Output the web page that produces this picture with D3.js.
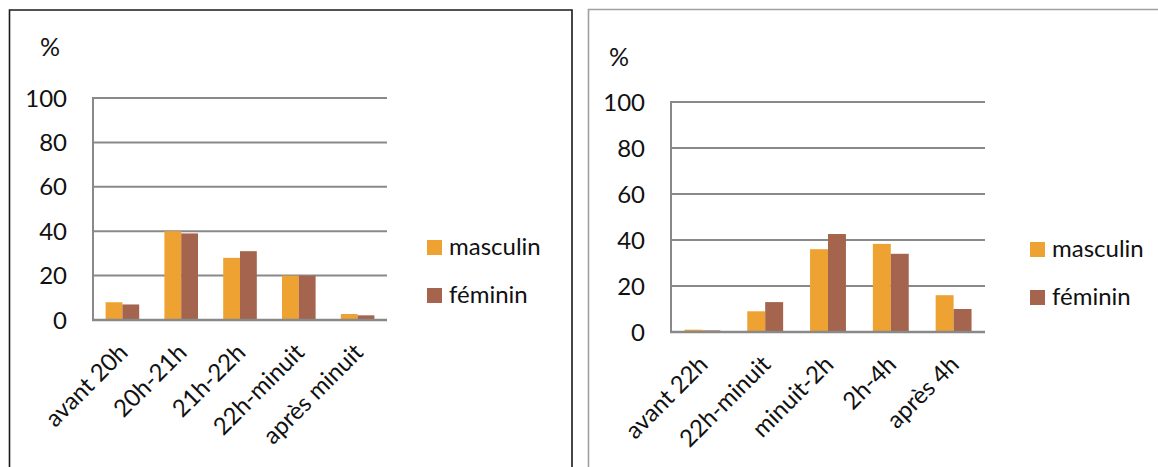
<!DOCTYPE html>
<html>
<head>
<meta charset="utf-8">
<script src="https://cdn.jsdelivr.net/npm/d3@7"></script>
<style>
  html, body { margin: 0; padding: 0; background: #fff; }
  svg { display: block; }
  text { font-family: Lato, "Open Sans", sans-serif; fill: #111; }
</style>
</head>
<body>
<svg id="chart" width="1158" height="467"></svg>
<script>
// ---- data ----
const seriesNames = ["masculin", "féminin"];
const seriesColors = ["#EEA232", "#A5644E"];
const yTicks = [0, 20, 40, 60, 80, 100];

const leftCategories = ["avant 20h", "20h-21h", "21h-22h", "22h-minuit", "après minuit"];
const leftMasculin = [8, 40, 28, 20, 2.7];
const leftFeminin = [7, 39, 31, 20, 2.1];

const rightCategories = ["avant 22h", "22h-minuit", "minuit-2h", "2h-4h", "après 4h"];
const rightMasculin = [1, 9, 36, 38.3, 16];
const rightFeminin = [0.7, 13, 42.6, 34, 10];

const svg = d3.select("#chart");
svg.append("rect").attr("width", 1158).attr("height", 467).attr("fill", "#fff");

// panel frames
svg.append("path").attr("d", "M9.5,470 V10 H572 V470")
  .attr("fill", "none").attr("stroke", "#1a1a1a").attr("stroke-width", 1.6);
svg.append("path").attr("d", "M588.5,470 V9.5 H1160")
  .attr("fill", "none").attr("stroke", "#a0a0a0").attr("stroke-width", 1.6);

function drawChart(cfg) {
  const g = svg.append("g");
  const x = d3.scaleBand().domain(cfg.categories).range([cfg.x0, cfg.x1]).padding(0);
  const y = d3.scaleLinear().domain([0, 100]).range([cfg.y0, cfg.y1]);
  const inner = d3.scaleBand().domain(seriesNames)
    .range([0, x.bandwidth()]).paddingOuter(0.75).paddingInner(0);

  // gridlines
  g.selectAll("line.grid").data(yTicks.filter(t => t > 0)).join("line")
    .attr("x1", cfg.x0).attr("x2", cfg.x1)
    .attr("y1", d => y(d)).attr("y2", d => y(d))
    .attr("stroke", "#898989").attr("stroke-width", 2);

  // tick labels
  g.selectAll("text.tick").data(yTicks).join("text")
    .attr("x", cfg.x0 - 26).attr("y", d => y(d)).attr("dy", "0.36em")
    .attr("text-anchor", "end").attr("font-size", 24)
    .text(d => d);

  // bars
  const values = [cfg.masc, cfg.fem];
  seriesNames.forEach((s, si) => {
    g.selectAll("rect.s" + si).data(cfg.categories).join("rect")
      .attr("x", d => x(d) + inner(s))
      .attr("width", inner.bandwidth())
      .attr("y", (d, i) => y(values[si][i]))
      .attr("height", (d, i) => y(0) - y(values[si][i]))
      .attr("fill", seriesColors[si]);
  });

  // axes lines
  g.append("line").attr("x1", cfg.x0).attr("x2", cfg.x0)
    .attr("y1", y(100) - 1).attr("y2", y(0) + 1)
    .attr("stroke", "#898989").attr("stroke-width", 2);
  g.append("line").attr("x1", cfg.x0 - 1).attr("x2", cfg.x1)
    .attr("y1", y(0)).attr("y2", y(0))
    .attr("stroke", "#898989").attr("stroke-width", 2.5);

  // x labels
  g.selectAll("text.xl").data(cfg.categories).join("text")
    .attr("transform", d => `translate(${x(d) + x.bandwidth() / 2 + 1},${y(0) + 28}) rotate(-45)`)
    .attr("text-anchor", "end").attr("dy", "0.35em").attr("font-size", 24)
    .text(d => d);

  // % label
  g.append("text").attr("x", cfg.pctX).attr("y", cfg.pctY)
    .attr("font-size", 25).text("%");

  // legend
  seriesNames.forEach((s, si) => {
    const ly = cfg.legY + si * 48;
    g.append("rect").attr("x", cfg.legX).attr("y", ly).attr("width", 15).attr("height", 15)
      .attr("fill", seriesColors[si]);
    g.append("text").attr("x", cfg.legX + 22).attr("y", ly + 15)
      .attr("font-size", 24).text(s);
  });
}

drawChart({ categories: leftCategories, masc: leftMasculin, fem: leftFeminin,
  x0: 93, x1: 387, y0: 320, y1: 98, pctX: 40, pctY: 56, legX: 427, legY: 240 });
drawChart({ categories: rightCategories, masc: rightMasculin, fem: rightFeminin,
  x0: 671, x1: 985, y0: 332, y1: 102, pctX: 609, pctY: 66, legX: 1030, legY: 242 });
</script>
</body>
</html>
